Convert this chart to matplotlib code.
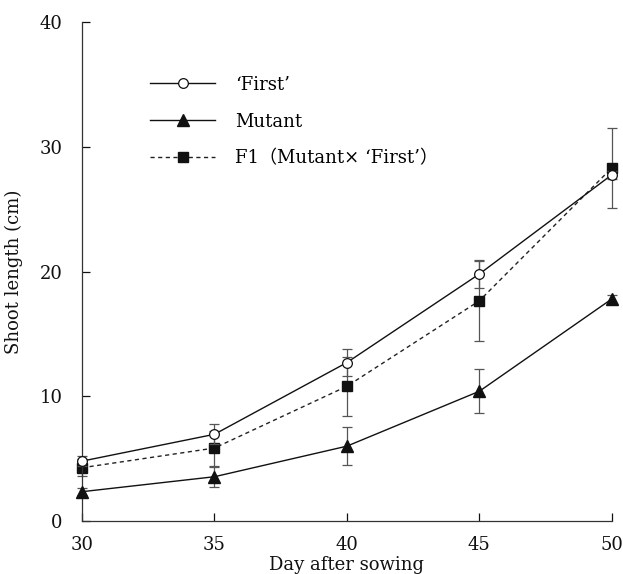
import matplotlib
matplotlib.use("Agg")
from matplotlib import pyplot as plt
from matplotlib.lines import Line2D

plt.rcParams['font.family'] = ['DejaVu Serif', 'Noto Sans CJK JP']

# data
days = [30, 35, 40, 45, 50]

first = [4.8, 6.95, 12.7, 19.8, 27.75]
first_err = [0.4, 0.8, 1.1, 1.1, 0.3]

mutant = [2.35, 3.55, 6.0, 10.4, 17.8]
mutant_err = [0.3, 0.8, 1.5, 1.75, 0.3]

f1 = [4.27, 5.85, 10.8, 17.65, 28.3]
f1_err = [0.7, 1.4, 2.35, 3.2, 3.2]

labels = ["\u2018First\u2019", "Mutant", "F1\uff08Mutant\u00d7 \u2018First\u2019\uff09"]

fig = plt.figure(figsize=(6.23, 5.74), dpi=100)
ax = fig.add_axes([0.1316, 0.0923, 0.8504, 0.8694])

err_kw = dict(ecolor="#555555", elinewidth=0.9, capsize=3.8, capthick=0.9, clip_on=False)

f1_style = dict(color="#222222", lw=1.0, ls=(0, (3, 2.5)), marker="s", ms=7,
                mfc="#111111", mec="#111111")
mut_style = dict(color="#111111", lw=1.0, marker="^", ms=9, mfc="#111111", mec="#111111")
first_style = dict(color="#111111", lw=1.0, marker="o", ms=7, mfc="white",
                   mec="#111111", mew=0.9)

ax.errorbar(days, f1, yerr=f1_err, zorder=2, **f1_style, **err_kw)
ax.errorbar(days, mutant, yerr=mutant_err, zorder=3, **mut_style, **err_kw)
ax.errorbar(days, first, yerr=first_err, zorder=4, **first_style, **err_kw)

ax.set_xlim(30, 50)
ax.set_ylim(0, 40)
ax.set_xticks(days)
ax.set_yticks([0, 10, 20, 30, 40])
ax.tick_params(direction="in", length=6, width=0.9, labelsize=13, colors="#111111")
ax.tick_params(axis="y", pad=14)
ax.tick_params(axis="x", pad=11)
ax.spines["top"].set_visible(False)
ax.spines["right"].set_visible(False)
for s in ["left", "bottom"]:
    ax.spines[s].set_linewidth(0.9)
    ax.spines[s].set_color("#333333")

ax.set_xlabel("Day after sowing", fontsize=13, labelpad=1, color="#111111")
ax.set_ylabel("Shoot length (cm)", fontsize=13, labelpad=12, color="#111111")

handles = [Line2D([], [], **first_style), Line2D([], [], **mut_style),
           Line2D([], [], **f1_style)]
ax.legend(handles, labels, loc="upper left", bbox_to_anchor=(0.098, 0.925), frameon=False,
          fontsize=13, handlelength=3.6, handletextpad=1.1, labelspacing=1.05)

fig.savefig("out.png", dpi=100)
